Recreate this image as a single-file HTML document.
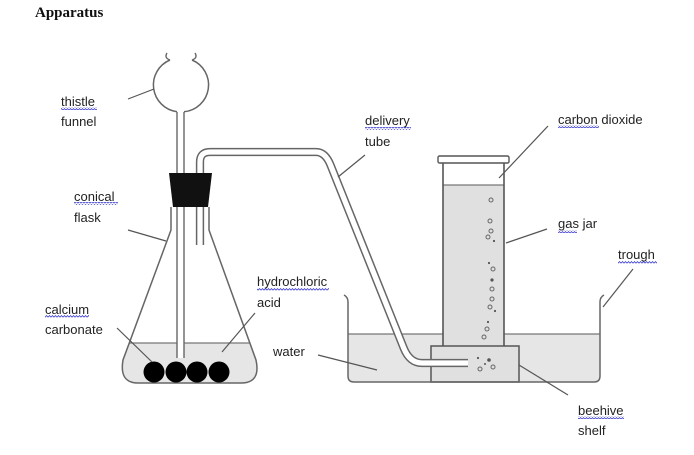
<!DOCTYPE html>
<html><head><meta charset="utf-8"><style>
html,body{margin:0;padding:0;background:#fff;}
svg{display:block;}
text{font-family:"Liberation Sans",sans-serif;font-size:13px;fill:#222;}
</style></head><body>
<svg width="694" height="455" viewBox="0 0 694 455" xmlns="http://www.w3.org/2000/svg">
<defs>
<pattern id="wv" width="3" height="3" patternUnits="userSpaceOnUse">
<path d="M0,2.2 L1.5,0.6 L3,2.2" stroke="#3b3bd0" fill="none" stroke-width="0.8"/>
</pattern>
</defs>
<rect width="694" height="455" fill="#fff"/>
<text x="35" y="17" style="font-family:'Liberation Serif',serif;font-weight:bold;font-size:15px;fill:#111">Apparatus</text>

<!-- flask liquid -->
<path d="M129.3,343 L249.7,343 L256,360 Q261,383 241,383 L138,383 Q119,383 123,360 Z" fill="#e6e6e6"/>
<line x1="129.3" y1="343" x2="249.7" y2="343" stroke="#777" stroke-width="1.2"/>
<!-- flask outline -->
<path d="M171,207 L171,230 L123,360 Q119,383 138,383 L241,383 Q261,383 256,360 L209,230 L209,207" fill="none" stroke="#666" stroke-width="1.5"/>
<!-- balls -->
<circle cx="154" cy="372" r="10.5" fill="#000"/>
<circle cx="176" cy="372" r="10.5" fill="#000"/>
<circle cx="197" cy="372" r="10.5" fill="#000"/>
<circle cx="219" cy="372" r="10.5" fill="#000"/>
<!-- thistle stem -->
<rect x="177" y="112" width="7" height="246" fill="#fff"/>
<line x1="177" y1="112" x2="177" y2="358" stroke="#666" stroke-width="1.4"/>
<line x1="184" y1="112" x2="184" y2="358" stroke="#666" stroke-width="1.4"/>
<!-- thistle bulb -->
<path d="M170,60 A27,27 0 0 0 177,111.7" fill="none" stroke="#666" stroke-width="1.5"/>
<path d="M192,60 A27,27 0 0 1 184,111.8" fill="none" stroke="#666" stroke-width="1.5"/>
<path d="M170,60 Q164,58 167,53" fill="none" stroke="#666" stroke-width="1.4"/>
<path d="M192,60 Q198,58 195,53" fill="none" stroke="#666" stroke-width="1.4"/>

<!-- trough water -->
<path d="M348,334 L600,334 L600,376 Q600,382 594,382 L354,382 Q348,382 348,376 Z" fill="#e6e6e6"/>
<line x1="348" y1="334" x2="600" y2="334" stroke="#777" stroke-width="1.2"/>
<!-- gas jar -->
<rect x="443" y="185" width="61" height="161" fill="#e0e0e0"/>
<line x1="443" y1="185" x2="504" y2="185" stroke="#777" stroke-width="1.2"/>
<line x1="443" y1="163" x2="443" y2="346" stroke="#555" stroke-width="1.6"/>
<line x1="504" y1="163" x2="504" y2="346" stroke="#555" stroke-width="1.6"/>
<rect x="438" y="156" width="71" height="7" rx="1.5" fill="#fff" stroke="#555" stroke-width="1.4"/>
<!-- shelf -->
<rect x="431" y="346" width="88" height="36" fill="#e0e0e0" stroke="#555" stroke-width="1.5"/>
<!-- trough outline -->
<path d="M344,295 Q348,297 348,302 L348,376 Q348,382 354,382 L594,382 Q600,382 600,376 L600,302 Q600,297 604,295" fill="none" stroke="#666" stroke-width="1.5"/>

<!-- delivery tube -->
<path d="M200,245 L200,162 Q200,152 210,152 L316,152 Q325.3,152 330.5,165 L403.7,348 Q409.7,363 422,363 L468,363" fill="none" stroke="#666" stroke-width="8.3"/>
<path d="M200,246 L200,162 Q200,152 210,152 L316,152 Q325.3,152 330.5,165 L403.7,348 Q409.7,363 422,363 L468,363" fill="none" stroke="#fff" stroke-width="5.3"/>

<!-- stopper -->
<polygon points="169,173 212,173 208,207 173,207" fill="#111"/>

<!-- bubbles -->
<g fill="none" stroke="#666" stroke-width="1">
<circle cx="491" cy="200" r="2"/>
<circle cx="490" cy="221" r="2"/>
<circle cx="491" cy="231" r="2"/>
<circle cx="488" cy="237" r="2"/>
<circle cx="493" cy="269" r="2"/>
<circle cx="492" cy="289" r="2"/>
<circle cx="492" cy="299" r="2"/>
<circle cx="490" cy="307" r="2"/>
<circle cx="487" cy="329" r="2"/>
<circle cx="484" cy="337" r="2"/>
<circle cx="493" cy="367" r="2"/>
<circle cx="480" cy="369" r="2"/>
</g>
<g fill="#555">
<circle cx="494" cy="241" r="1.1"/>
<circle cx="489" cy="263" r="1.1"/>
<circle cx="492" cy="280" r="1.6"/>
<circle cx="495" cy="311" r="1.1"/>
<circle cx="488" cy="322" r="1.1"/>
<circle cx="478" cy="358" r="1.1"/>
<circle cx="489" cy="360" r="1.8"/>
<circle cx="485" cy="364" r="1"/>
</g>

<!-- leader lines -->
<g stroke="#555" stroke-width="1.2">
<line x1="128" y1="99" x2="154" y2="89"/>
<line x1="128" y1="230" x2="166" y2="241"/>
<line x1="117" y1="328" x2="152" y2="362"/>
<line x1="255" y1="313" x2="222" y2="352"/>
<line x1="318" y1="355" x2="377" y2="370"/>
<line x1="365" y1="155" x2="338" y2="177"/>
<line x1="548" y1="126" x2="499" y2="178"/>
<line x1="547" y1="229" x2="506" y2="243"/>
<line x1="633" y1="269" x2="603" y2="307"/>
<line x1="519" y1="365" x2="568" y2="395"/>
</g>

<!-- labels -->
<text x="61" y="106">thistle</text>
<text x="61" y="126">funnel</text>
<text x="74" y="201">conical</text>
<text x="74" y="222">flask</text>
<text x="45" y="314">calcium</text>
<text x="45" y="334">carbonate</text>
<text x="257" y="286">hydrochloric</text>
<text x="257" y="307">acid</text>
<text x="273" y="356">water</text>
<text x="365" y="125">delivery</text>
<text x="365" y="146">tube</text>
<text x="558" y="124">carbon dioxide</text>
<text x="558" y="228">gas jar</text>
<text x="618" y="259">trough</text>
<text x="578" y="415">beehive</text>
<text x="578" y="435">shelf</text>

<!-- wavy spell underlines -->
<g fill="url(#wv)">
<rect x="61" y="107" width="36" height="3"/>
<rect x="74" y="202" width="44" height="3"/>
<rect x="45" y="315" width="44" height="3"/>
<rect x="257" y="288" width="72" height="3"/>
<rect x="365" y="127" width="46" height="3"/>
<rect x="558" y="125" width="41" height="3"/>
<rect x="558" y="230" width="19" height="3"/>
<rect x="618" y="261" width="39" height="3"/>
<rect x="578" y="416" width="46" height="3"/>
</g>
</svg>
</body></html>
